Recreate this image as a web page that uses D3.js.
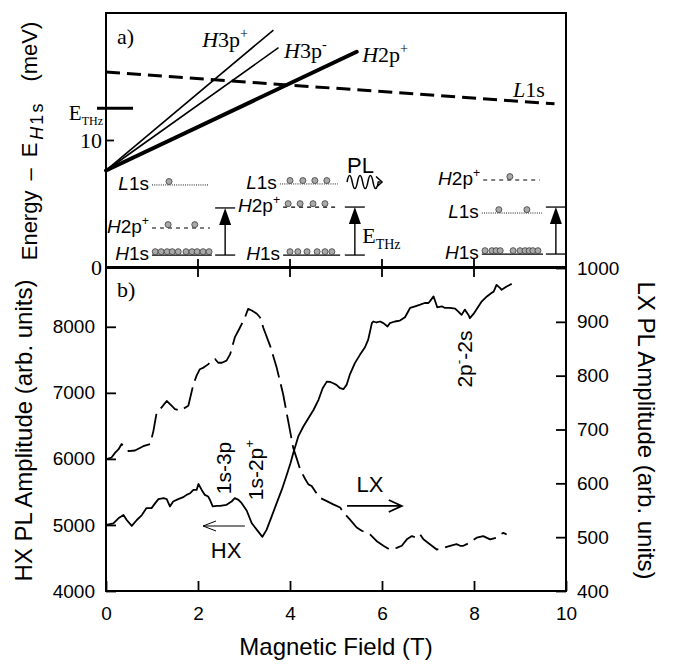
<!DOCTYPE html>
<html>
<head>
<meta charset="utf-8">
<script src="https://cdn.jsdelivr.net/npm/d3@7"></script>
<style>
  body { margin: 0; background: #fff; }
  svg { display: block; }
</style>
</head>
<body>
<svg id="fig" width="674" height="666"></svg>
<script>
// ---------- data ----------
const fieldTicks = [0, 2, 4, 6, 8, 10];
const energyTicks = [0, 10];
const hxTicks = [4000, 5000, 6000, 7000, 8000];
const lxTicks = [400, 500, 600, 700, 800, 900, 1000];

// panel a: level energies above H1s (meV) against field (T)
const h3pPlus  = [[0, 7.6], [3.64, 18.66]];
const h3pMinus = [[0, 7.6], [3.75, 17.27]];
const h2pPlus  = [[0, 7.6], [5.45, 16.95]];
const l1sLevel = [[0, 15.35], [9.75, 12.85]];
const eTHz = 12.5;

// panel b: HX photoluminescence (left axis)
const hxField = [0.01,0.16,0.27,0.38,0.45,0.56,0.67,0.78,0.88,0.99,
  1.07,1.14,1.25,1.32,1.39,1.46,1.57,1.68,1.75,1.83,
  1.90,1.97,2.01,2.08,2.15,2.22,2.26,2.32,2.41,2.48,
  2.62,2.73,2.80,2.88,2.95,3.06,3.17,3.28,3.40,3.49,
  3.60,3.71,3.82,3.93,4.01,4.07,4.18,4.29,4.40,4.51,
  4.62,4.71,4.80,4.87,4.94,5.01,5.09,5.16,5.23,5.30,
  5.41,5.52,5.63,5.70,5.78,5.81,5.88,5.96,6.03,6.12,
  6.17,6.28,6.39,6.50,6.61,6.72,6.83,6.93,7.01,7.04,
  7.12,7.17,7.20,7.30,7.37,7.48,7.59,7.66,7.73,7.80,
  7.88,7.91,7.99,8.06,8.17,8.28,8.38,8.43,8.49,8.57,
  8.60,8.71,8.82];
const hxAmp = [5000,5025,5100,5150,5075,4985,5075,5150,5255,5255,
  5330,5390,5405,5390,5280,5355,5390,5420,5455,5480,
  5530,5530,5620,5530,5455,5430,5380,5280,5290,5290,
  5305,5355,5405,5380,5330,5215,5025,4925,4820,4925,
  5125,5330,5530,5760,5935,6085,6340,6490,6615,6740,
  6895,7070,7170,7165,7145,7120,7070,7055,7120,7275,
  7450,7575,7690,7805,8055,8080,8065,8080,8055,8005,
  8055,8080,8095,8145,8285,8310,8335,8360,8360,8385,
  8460,8360,8295,8310,8285,8285,8275,8230,8180,8260,
  8180,8130,8195,8270,8385,8460,8510,8535,8635,8585,
  8560,8610,8650];

// panel b: LX photoluminescence (right axis)
const lxField = [0.01,0.12,0.20,0.27,0.34,0.41,0.49,0.63,0.81,0.96,
  1.03,1.10,1.21,1.32,1.43,1.50,1.61,1.79,1.90,1.97,
  2.04,2.12,2.22,2.30,2.37,2.44,2.52,2.62,2.70,2.80,
  2.91,3.02,3.09,3.17,3.28,3.35,3.42,3.57,3.71,3.85,
  3.96,4.07,4.15,4.22,4.33,4.40,4.47,4.54,4.65,4.80,
  4.94,5.09,5.16,5.30,5.45,5.56,5.74,5.88,6.03,6.17,
  6.32,6.43,6.54,6.65,6.75,6.83,6.90,7.04,7.19,7.33,
  7.48,7.62,7.70,7.77,7.91,8.06,8.20,8.35,8.49,8.57,
  8.64,8.71];
const lxAmp = [645,648,657,663,673,666,660,661,669,673,
  697,731,741,753,744,738,735,744,784,800,
  812,815,821,828,831,824,824,828,840,871,
  889,908,924,921,915,908,889,855,815,766,
  716,666,645,626,608,598,595,586,573,567,
  561,555,546,533,518,512,505,493,484,477,
  480,484,496,502,499,505,496,487,477,480,
  484,487,484,484,490,499,502,496,499,505,
  508,505];

// level-scheme insets drawn inside panel a (field in T, energy in meV)
const insetLevels = [
  { name: "L", rest: "1s", sup: "", e: 6.46, b0: 1.00, b1: 2.22, kind: "dotted", dots: [1.37] },
  { name: "H", rest: "2p", sup: "+", e: 3.07, b0: 1.00, b1: 2.26, kind: "dashed", dots: [1.35, 1.93] },
  { name: "H", rest: "1s", sup: "", e: 0.94, b0: 1.00, b1: 2.30, kind: "solid",
    dots: [1.07, 1.20, 1.33, 1.44, 1.57, 1.74, 1.87, 1.98, 2.11, 2.24] },
  { name: "L", rest: "1s", sup: "", e: 6.54, b0: 3.78, b1: 5.04, kind: "dotted", dots: [4.00, 4.28, 4.54, 4.80] },
  { name: "H", rest: "2p", sup: "+", e: 4.72, b0: 3.85, b1: 5.04, kind: "dashed", dots: [3.96, 4.22, 4.50, 4.76] },
  { name: "H", rest: "1s", sup: "", e: 0.94, b0: 3.85, b1: 5.09, kind: "solid",
    dots: [4.00, 4.17, 4.37, 4.59, 4.76, 4.91] },
  { name: "H", rest: "2p", sup: "+", e: 6.85, b0: 8.20, b1: 9.43, kind: "dashed", dots: [8.78] },
  { name: "L", rest: "1s", sup: "", e: 4.25, b0: 8.17, b1: 9.48, kind: "dotted", dots: [8.54, 9.15] },
  { name: "H", rest: "1s", sup: "", e: 1.02, b0: 8.17, b1: 9.50, kind: "solid",
    dots: [8.24, 8.39, 8.48, 8.57, 8.85, 9.00, 9.11, 9.20, 9.28, 9.39] }
];
const insetArrows = [
  { b: 2.59, e0: 0.94, e1: 4.65 },
  { b: 5.41, e0: 0.94, e1: 4.72 },
  { b: 9.78, e0: 1.02, e1: 4.72 }
];

// ---------- setup ----------
const SANS = "'Liberation Sans', Arial, Helvetica, sans-serif";
const SERIF = "'Liberation Serif', 'Times New Roman', serif";
const svg = d3.select("#fig");

const x = d3.scaleLinear().domain([0, 10]).range([106, 566]);
const yE = d3.scaleLinear().domain([0, 20]).range([267, 13]);
const yHX = d3.scaleLinear().domain([4000, 8890]).range([591, 268]);
const yLX = d3.scaleLinear().domain([400, 1000]).range([591, 268]);

// writes a run of text pieces with sub/superscripts into a <text>
function rich(textSel, parts, size) {
  let shift = 0;
  parts.forEach(p => {
    const ts = textSel.append("tspan").text(p.t);
    const target = p.sup ? -size * 0.42 : p.sub ? (p.subShift || size * 0.3) : 0;
    if (target - shift !== 0) ts.attr("dy", target - shift);
    shift = target;
    if (p.sup || p.sub) ts.attr("font-size", p.size || size * 0.65);
    if (p.it) ts.attr("font-style", "italic");
    if (p.dx) ts.attr("dx", p.dx);
    if (p.ls) ts.attr("letter-spacing", p.ls);
    if (p.family) ts.attr("font-family", p.family);
  });
  return textSel;
}

// ---------- frames ----------
svg.append("rect")
  .attr("x", x(0)).attr("y", yE(20))
  .attr("width", x(10) - x(0)).attr("height", yE(0) - yE(20))
  .attr("fill", "none").attr("stroke", "#000").attr("stroke-width", 2);
svg.append("rect")
  .attr("x", x(0)).attr("y", yHX(8890))
  .attr("width", x(10) - x(0)).attr("height", yHX(4000) - yHX(8890))
  .attr("fill", "none").attr("stroke", "#000").attr("stroke-width", 2);

function styleAxis(g, family, size) {
  g.select(".domain").remove();
  g.selectAll(".tick line").attr("stroke", "#000").attr("stroke-width", 1.8);
  g.selectAll(".tick text").attr("font-family", family).attr("font-size", size).attr("fill", "#000");
}

// panel a energy axis
svg.append("g").attr("transform", `translate(${x(0)},0)`)
  .call(d3.axisLeft(yE).tickValues(energyTicks).tickSize(-8).tickPadding(4).tickFormat(d3.format("d")))
  .call(g => styleAxis(g, SERIF, 22));

// shared field ticks on the boundary between panels
svg.append("g").selectAll("line")
  .data(fieldTicks.filter(d => d > 0 && d < 10))
  .join("line")
  .attr("x1", d => x(d)).attr("x2", d => x(d))
  .attr("y1", yE(0) - 8).attr("y2", yE(0) + 10)
  .attr("stroke", "#000").attr("stroke-width", 1.8);

// panel b axes
svg.append("g").attr("transform", `translate(0,${yHX(4000)})`)
  .call(d3.axisBottom(x).tickValues(fieldTicks).tickSize(-10).tickPadding(16).tickFormat(d3.format("d")))
  .call(g => styleAxis(g, SANS, 19));
svg.append("g").attr("transform", `translate(${x(0)},0)`)
  .call(d3.axisLeft(yHX).tickValues(hxTicks).tickSize(-10).tickPadding(11).tickFormat(d3.format("d")))
  .call(g => styleAxis(g, SANS, 19));
svg.append("g").attr("transform", `translate(${x(10)},0)`)
  .call(d3.axisRight(yLX).tickValues(lxTicks).tickSize(-10).tickPadding(11).tickFormat(d3.format("d")))
  .call(g => styleAxis(g, SANS, 19));

// ---------- axis titles ----------
svg.append("text")
  .attr("transform", `translate(37,${(yE(20) + yE(0)) / 2 + 1}) rotate(-90)`)
  .attr("text-anchor", "middle").attr("font-family", SANS).attr("font-size", 22)
  .call(t => rich(t, [
    { t: "Energy" },
    { t: "\u2013", dx: 10 },
    { t: "E", dx: 11 },
    { t: "H", sub: true, it: true, size: 18, subShift: 6, dx: 3, ls: 2 },
    { t: "1s", sub: true, size: 18, subShift: 6, ls: 2 },
    { t: "(meV)", dx: 20 }
  ], 22));

svg.append("text")
  .attr("transform", `translate(32,${(yHX(4000) + yHX(8890)) / 2 + 1}) rotate(-90)`)
  .attr("text-anchor", "middle").attr("font-family", SANS).attr("font-size", 24)
  .text("HX PL Amplitude (arb. units)");

svg.append("text")
  .attr("transform", `translate(638,${(yLX(400) + yLX(1000)) / 2 + 1}) rotate(90)`)
  .attr("text-anchor", "middle").attr("font-family", SANS).attr("font-size", 24)
  .text("LX PL Amplitude (arb. units)");

svg.append("text")
  .attr("x", (x(0) + x(10)) / 2).attr("y", 655)
  .attr("text-anchor", "middle").attr("font-family", SANS).attr("font-size", 24)
  .text("Magnetic Field (T)");

// ---------- panel a ----------
const lineE = d3.line().x(d => x(d[0])).y(d => yE(d[1]));

svg.append("path").datum(l1sLevel).attr("d", lineE)
  .attr("fill", "none").attr("stroke", "#000").attr("stroke-width", 3)
  .attr("stroke-dasharray", "14,7");
svg.append("path").datum(h3pPlus).attr("d", lineE)
  .attr("fill", "none").attr("stroke", "#000").attr("stroke-width", 1.6);
svg.append("path").datum(h3pMinus).attr("d", lineE)
  .attr("fill", "none").attr("stroke", "#000").attr("stroke-width", 1.6);
svg.append("path").datum(h2pPlus).attr("d", lineE)
  .attr("fill", "none").attr("stroke", "#000").attr("stroke-width", 4)
  .attr("stroke-linecap", "round");

// THz photon energy marker on the energy axis
svg.append("line")
  .attr("x1", x(0) - 9).attr("x2", x(0) + 27)
  .attr("y1", yE(eTHz)).attr("y2", yE(eTHz))
  .attr("stroke", "#000").attr("stroke-width", 3);
svg.append("text")
  .attr("x", x(0) - 3).attr("y", yE(eTHz) + 12)
  .attr("text-anchor", "end").attr("font-family", SERIF).attr("font-size", 21)
  .call(t => rich(t, [{ t: "E" }, { t: "THz", sub: true, size: 12, subShift: 5 }], 21));

// line labels
const lineLabels = [
  { b: 2.09, e: 17.30, parts: [{ t: "H", it: true }, { t: "3p" }, { t: "+", sup: true }] },
  { b: 3.87, e: 16.46, parts: [{ t: "H", it: true }, { t: "3p" }, { t: "-", sup: true }] },
  { b: 5.57, e: 16.14, parts: [{ t: "H", it: true }, { t: "2p" }, { t: "+", sup: true }] },
  { b: 8.85, e: 13.39, parts: [{ t: "L", it: true }, { t: "1s" }] }
];
lineLabels.forEach(l => {
  svg.append("text").attr("x", x(l.b)).attr("y", yE(l.e))
    .attr("font-family", SERIF).attr("font-size", 22)
    .call(t => rich(t, l.parts, 22));
});

svg.append("text").attr("x", x(0) + 11).attr("y", yE(20) + 31)
  .attr("font-family", SERIF).attr("font-size", 22).text("a)");

// level schemes
const insetG = svg.append("g");
insetLevels.forEach(lv => {
  const ly = yE(lv.e);
  const ln = insetG.append("line")
    .attr("x1", x(lv.b0)).attr("x2", x(lv.b1)).attr("y1", ly).attr("y2", ly)
    .attr("stroke", "#000");
  if (lv.kind === "dotted") ln.attr("stroke-width", 0.9).attr("stroke-dasharray", "1,1.2");
  else if (lv.kind === "dashed") ln.attr("stroke-width", 1.2).attr("stroke-dasharray", "4,4");
  else ln.attr("stroke-width", 1.2);

  insetG.append("g").selectAll("circle").data(lv.dots).join("circle")
    .attr("cx", d => x(d)).attr("cy", ly - 3.4).attr("r", 3)
    .attr("fill", "#a9a9a9").attr("stroke", "#3a3a3a").attr("stroke-width", 0.8);

  const parts = [{ t: lv.name, it: true }, { t: lv.rest }];
  if (lv.sup) parts.push({ t: lv.sup, sup: true });
  insetG.append("text")
    .attr("x", x(lv.b0) - 3).attr("y", ly + 5)
    .attr("text-anchor", "end").attr("font-family", SANS).attr("font-size", 19)
    .call(t => rich(t, parts, 19));
});

insetArrows.forEach(a => {
  const ax = x(a.b), y0 = yE(a.e0), y1 = yE(a.e1);
  insetG.append("line").attr("x1", ax).attr("x2", ax).attr("y1", y0).attr("y2", y1 + 14)
    .attr("stroke", "#000").attr("stroke-width", 1.4);
  insetG.append("path")
    .attr("d", `M${ax},${y1} L${ax - 6},${y1 + 17} L${ax + 6},${y1 + 17} Z`)
    .attr("fill", "#000");
  [y0, y1].forEach(yy => {
    insetG.append("line").attr("x1", ax - 10).attr("x2", ax + 10).attr("y1", yy).attr("y2", yy)
      .attr("stroke", "#000").attr("stroke-width", 1.3);
  });
});

// emitted light in the middle scheme
insetG.append("text").attr("x", x(5.24)).attr("y", yE(7.40))
  .attr("font-family", SANS).attr("font-size", 22).text("PL");
const wx = x(5.24), wy = yE(6.69);
insetG.append("path")
  .attr("d", `M${wx},${wy} q2.6,-13 5.2,0 q2.6,13 5.2,0 q2.6,-13 5.2,0 q2.6,13 5.2,0 q2.6,-13 5.2,0 q2.6,13 5.2,0 l2,0 M${wx + 29},${wy - 5.5} L${wx + 35},${wy} L${wx + 29},${wy + 5.5}`)
  .attr("fill", "none").attr("stroke", "#000").attr("stroke-width", 1.5);
insetG.append("text").attr("x", x(5.57)).attr("y", yE(1.89))
  .attr("font-family", SERIF).attr("font-size", 22)
  .call(t => rich(t, [{ t: "E" }, { t: "THz", sub: true, family: SERIF, size: 14, subShift: 6 }], 22));

// ---------- panel b ----------
const hxData = d3.zip(hxField, hxAmp);
const lxData = d3.zip(lxField, lxAmp);

svg.append("path").datum(lxData)
  .attr("d", d3.line().x(d => x(d[0])).y(d => yLX(d[1])))
  .attr("fill", "none").attr("stroke", "#000").attr("stroke-width", 1.8)
  .attr("stroke-linejoin", "round").attr("stroke-dasharray", "24,7");
svg.append("path").datum(hxData)
  .attr("d", d3.line().x(d => x(d[0])).y(d => yHX(d[1])))
  .attr("fill", "none").attr("stroke", "#000").attr("stroke-width", 1.8)
  .attr("stroke-linejoin", "round");

svg.append("text").attr("x", x(0) + 11).attr("y", yHX(8890) + 29)
  .attr("font-family", SERIF).attr("font-size", 22).text("b)");

// transition labels
const transitions = [
  { b: 2.72, v: 5862, parts: [{ t: "1s-3p" }] },
  { b: 3.41, v: 5832, parts: [{ t: "1s-2p" }, { t: "+", sup: true }] },
  { b: 7.96, v: 7512, parts: [{ t: "2p" }, { t: "-", sup: true }, { t: "-2s" }] }
];
transitions.forEach(tr => {
  svg.append("text")
    .attr("transform", `translate(${x(tr.b)},${yHX(tr.v)}) rotate(-90)`)
    .attr("text-anchor", "middle").attr("font-family", SANS).attr("font-size", 21)
    .call(t => rich(t, tr.parts, 21));
});

// axis pointers
svg.append("text").attr("x", x(2.61)).attr("y", yHX(4500))
  .attr("text-anchor", "middle").attr("font-family", SANS).attr("font-size", 22).text("HX");
{
  const y0 = yHX(4984), xs = x(3.02), xt = x(2.11);
  svg.append("path")
    .attr("d", `M${xs},${y0} L${xt},${y0} M${xt + 13},${y0 - 5} L${xt},${y0} L${xt + 13},${y0 + 5}`)
    .attr("fill", "none").attr("stroke", "#000").attr("stroke-width", 1);
}
svg.append("text").attr("x", x(5.74)).attr("y", yLX(584))
  .attr("text-anchor", "middle").attr("font-family", SANS).attr("font-size", 22).text("LX");
{
  const y0 = yLX(558), xs = x(5.24), xt = x(6.43);
  svg.append("path")
    .attr("d", `M${xs},${y0} L${xt},${y0} M${xt - 13},${y0 - 6} L${xt},${y0} L${xt - 13},${y0 + 6}`)
    .attr("fill", "none").attr("stroke", "#000").attr("stroke-width", 1.8);
}
</script>
</body>
</html>
